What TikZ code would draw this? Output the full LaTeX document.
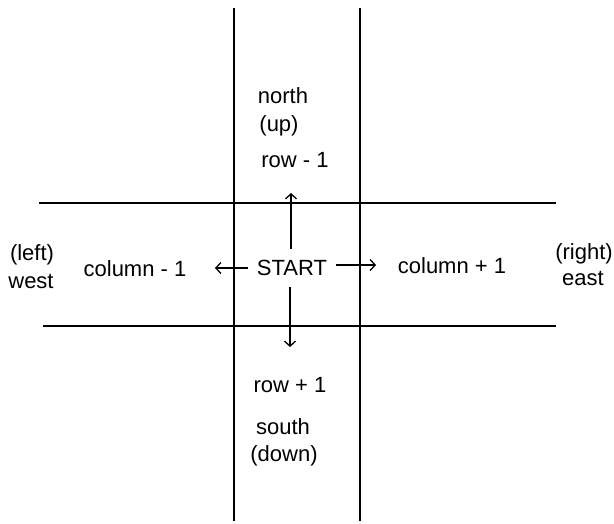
\documentclass[tikz,border=0pt]{standalone}
\usepackage{fontspec}
\setmainfont{Liberation Sans}
\usetikzlibrary{arrows.meta}
\begin{document}
\begin{tikzpicture}[x=1pt,y=-1pt,
  gridline/.style={line width=1.6pt,black},
  move/.style={line width=1.3pt,-{Straight Barb[length=5pt,width=11pt,line width=1.3pt]}},
  lbl/.style={inner sep=0pt,font=\fontsize{22}{26}\selectfont},
  startlbl/.style={inner xsep=9pt,inner ysep=11pt,font=\fontsize{22}{26}\selectfont}]
\useasboundingbox (0,0) rectangle (614,523);

% grid of the current cell
\draw[gridline] (234,8) -- (234,521);
\draw[gridline] (360,8) -- (360,521);
\draw[gridline] (39,203) -- (556,203);
\draw[gridline] (43,326) -- (556,326);

% centre cell
\node[startlbl] (start) at (292,268) {START};

% neighbours
\node[lbl] (north) at (283,96) {north};
\node[lbl] (up)    at (279,126) {(up)};
\node[lbl] (rowm)  at (295,160) {row - 1};

\node[lbl] (rowp)  at (290,385) {row + 1};
\node[lbl] (south) at (283,427) {south};
\node[lbl] (down)  at (284,456) {(down)};

\node[lbl] (colm)  at (135,269) {column - 1};
\node[lbl] (left)  at (32,255) {(left)};
\node[lbl] (west)  at (31,281) {west};

\node[lbl] (colp)  at (452,266) {column + 1};
\node[lbl] (right) at (584,254) {(right)};
\node[lbl] (east)  at (583,278) {east};

% arrow ends
\coordinate (tipN) at (291,193);
\coordinate (tipS) at (290,347);
\coordinate (tipW) at (215,268);
\coordinate (tipE) at (376,265);

\draw[move] (start.north -| tipN) -- (tipN);
\draw[move] (start.south -| tipS) -- (tipS);
\draw[move] (start.west |- tipW) -- (tipW);
\draw[move] (start.east |- tipE) -- (tipE);
\end{tikzpicture}
\end{document}
